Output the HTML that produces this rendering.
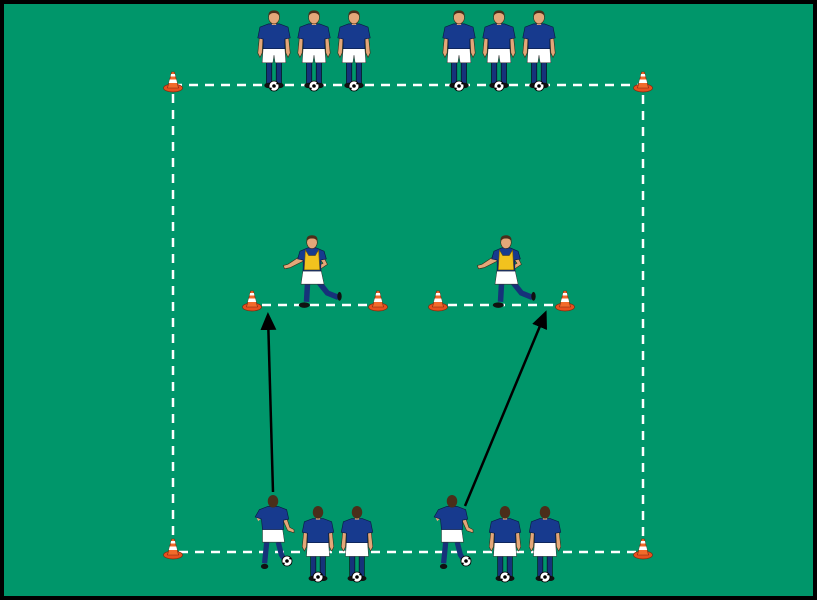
<!DOCTYPE html>
<html><head><meta charset="utf-8"><style>html,body{margin:0;padding:0;background:#000}svg{display:block}</style></head>
<body>
<svg width="817" height="600" viewBox="0 0 817 600" xmlns="http://www.w3.org/2000/svg">
<defs>
<g id="cone">
<ellipse cx="0" cy="0" rx="9.5" ry="4" fill="#e8501e" stroke="#7a2a10" stroke-width="0.7"/>
<path d="M-5.5 0 L-1.4 -16 L1.4 -16 L5.5 0 Z" fill="#f26a2a" stroke="#7a2a10" stroke-width="0.6"/>
<path d="M-4.2 -5 L4.2 -5 L3.3 -8.5 L-3.3 -8.5 Z" fill="#fff"/>
<path d="M-2.5 -11.5 L2.5 -11.5 L1.9 -14 L-1.9 -14 Z" fill="#fff"/>
</g>
<g id="ball"><circle r="5" fill="#fff" stroke="#000" stroke-width="0.8"/><circle r="1.8" fill="#000"/><circle cx="3.2" cy="-2.5" r="1" fill="#000"/><circle cx="-3.2" cy="2.5" r="1" fill="#000"/></g>
<g id="stand">
<rect x="-7" y="46" width="5" height="20" fill="#16327a" stroke="#000" stroke-width="0.5"/>
<rect x="2" y="46" width="5" height="20" fill="#16327a" stroke="#000" stroke-width="0.5"/>
<ellipse cx="-5" cy="68" rx="4" ry="2.5" fill="#111"/>
<ellipse cx="5" cy="68" rx="4" ry="2.5" fill="#111"/>
<path d="M-13 18 L-15 38 L-13 42 L-11 38 L-10 20 Z" fill="#e3a779" stroke="#3a2010" stroke-width="0.5"/>
<path d="M13 18 L15 38 L13 42 L11 38 L10 20 Z" fill="#e3a779" stroke="#3a2010" stroke-width="0.5"/>
<path d="M-10 32 L10 32 L11 47 L1 47 L0 40 L-1 47 L-11 47 Z" fill="#fff" stroke="#333" stroke-width="0.5"/>
<path d="M-5 11 L5 11 L13 14 L15 24 L10 25 L10 34 L-10 34 L-10 25 L-15 24 L-13 14 Z" fill="#173a8e" stroke="#0a1a40" stroke-width="0.6"/>
<rect x="-2" y="8" width="4" height="4" fill="#e3a779"/>
<ellipse cx="0" cy="5" rx="5" ry="6" fill="#e3a779" stroke="#3a2010" stroke-width="0.5"/>
<path d="M-5.2 4 Q-5.5 -1.5 0 -1.5 Q5.5 -1.5 5.2 4 Q3 0.5 0 1 Q-3 0.5 -5.2 4 Z" fill="#4a2e1a"/>
</g>
<g id="back">
<rect x="-7" y="46" width="5" height="20" fill="#16327a" stroke="#000" stroke-width="0.5"/>
<rect x="2" y="46" width="5" height="20" fill="#16327a" stroke="#000" stroke-width="0.5"/>
<ellipse cx="-5" cy="68" rx="4" ry="2.5" fill="#111"/>
<ellipse cx="5" cy="68" rx="4" ry="2.5" fill="#111"/>
<path d="M-13 18 L-15 38 L-13 42 L-11 38 L-10 20 Z" fill="#e3a779" stroke="#3a2010" stroke-width="0.5"/>
<path d="M13 18 L15 38 L13 42 L11 38 L10 20 Z" fill="#e3a779" stroke="#3a2010" stroke-width="0.5"/>
<path d="M-10 32 L10 32 L11 47 L-11 47 Z" fill="#fff" stroke="#333" stroke-width="0.5"/>
<path d="M-5 11 L5 11 L13 14 L15 24 L10 25 L10 34 L-10 34 L-10 25 L-15 24 L-13 14 Z" fill="#173a8e" stroke="#0a1a40" stroke-width="0.6"/>
<rect x="-2" y="8" width="4" height="4" fill="#e3a779"/>
<ellipse cx="0" cy="5" rx="5" ry="6" fill="#4a2e1a"/>
</g>
<g id="runback">
<path d="M-6 44 L-8 64" stroke="#16327a" stroke-width="5"/>
<path d="M5 44 L8 56 L12 62" stroke="#16327a" stroke-width="5" fill="none"/>
<ellipse cx="-8" cy="67" rx="3.5" ry="2.5" fill="#111"/>
<ellipse cx="14" cy="64" rx="4" ry="2.5" fill="#111"/>
<path d="M-12 14 L-16 20 L-14 24 L-10 20 Z" fill="#e3a779"/>
<path d="M12 18 L16 30 L20 32 L20 35 L14 33 L9 22 Z" fill="#e3a779" stroke="#3a2010" stroke-width="0.5"/>
<path d="M-10 30 L9 30 L11 44 L-10 44 Z" fill="#fff" stroke="#333" stroke-width="0.5"/>
<path d="M-5 10 L5 10 L13 13 L15 22 L10 23 L10 32 L-10 32 L-11 22 L-17 20 L-13 13 Z" fill="#173a8e" stroke="#0a1a40" stroke-width="0.6"/>
<ellipse cx="0" cy="5" rx="5" ry="6" fill="#4a2e1a"/>
</g>
<g id="bib">
<path d="M-4 40 L-5 58" stroke="#16327a" stroke-width="5"/>
<path d="M6 40 L14 50 L24 54" stroke="#16327a" stroke-width="5" fill="none"/>
<ellipse cx="-7" cy="61" rx="5" ry="2.5" fill="#111"/>
<ellipse cx="25" cy="53" rx="2" ry="4" fill="#111"/>
<path d="M-10 16 L-22 24 L-26 25 L-25 28 L-20 27 L-8 21 Z" fill="#e3a779" stroke="#3a2010" stroke-width="0.5"/>
<path d="M10 16 L14 24 L8 28 L6 25 L10 23 L7 19 Z" fill="#e3a779" stroke="#3a2010" stroke-width="0.5"/>
<path d="M-8 28 L8 28 L11 42 L-10 42 Z" fill="#fff" stroke="#333" stroke-width="0.5"/>
<path d="M-4 9 L4 9 L11 12 L13 19 L8 20 L8 30 L-8 30 L-8 20 L-13 19 L-11 12 Z" fill="#173a8e" stroke="#0a1a40" stroke-width="0.6"/>
<path d="M-6 11 L-3 16 L3 16 L6 11 L7 29 L-7 29 Z" fill="#f2c21e" stroke="#7a5a00" stroke-width="0.5"/>
<ellipse cx="0" cy="4" rx="4.8" ry="5.6" fill="#e3a779" stroke="#3a2010" stroke-width="0.5"/>
<path d="M-5 3 Q-5.5 -2.5 0 -2.5 Q5.5 -2.5 5 3 Q3 0 0 0.5 Q-3 0 -5 3 Z" fill="#4a2e1a"/>
</g>
<marker id="ah" markerWidth="18" markerHeight="16" refX="14" refY="8" orient="auto" markerUnits="userSpaceOnUse" viewBox="0 0 18 16"><path d="M0 0 L18 8 L0 16 Z" fill="#000"/></marker>
</defs>
<rect x="0" y="0" width="817" height="600" fill="#000"/>
<rect x="4" y="4" width="809" height="592" fill="#00966a"/>
<g stroke="#fff" stroke-width="2.5" stroke-dasharray="9,7" fill="none">
<rect x="173" y="85" width="470" height="467"/>
<line x1="262" y1="305" x2="372" y2="305"/>
<line x1="448" y1="305" x2="558" y2="305"/>
</g>
<use href="#cone" x="173" y="88"/><use href="#cone" x="643" y="88"/>
<use href="#cone" x="173" y="555"/><use href="#cone" x="643" y="555"/>
<use href="#cone" x="252" y="307"/><use href="#cone" x="378" y="307"/>
<use href="#cone" x="438" y="307"/><use href="#cone" x="565" y="307"/>
<g transform="translate(274,12) scale(1.08)"><use href="#stand"/></g>
<g transform="translate(314,12) scale(1.08)"><use href="#stand"/></g>
<g transform="translate(354,12) scale(1.08)"><use href="#stand"/></g>
<g transform="translate(459,12) scale(1.08)"><use href="#stand"/></g>
<g transform="translate(499,12) scale(1.08)"><use href="#stand"/></g>
<g transform="translate(539,12) scale(1.08)"><use href="#stand"/></g>
<use href="#ball" x="274" y="86"/><use href="#ball" x="314" y="86"/><use href="#ball" x="354" y="86"/>
<use href="#ball" x="459" y="86"/><use href="#ball" x="499" y="86"/><use href="#ball" x="539" y="86"/>
<g transform="translate(312,238) scale(1.1)"><use href="#bib"/></g>
<g transform="translate(506,238) scale(1.1)"><use href="#bib"/></g>
<line x1="273" y1="492" x2="268" y2="316" stroke="#000" stroke-width="2.5" marker-end="url(#ah)"/>
<line x1="465" y1="506" x2="545" y2="314" stroke="#000" stroke-width="2.5" marker-end="url(#ah)"/>
<g transform="translate(273,496) scale(1.05)"><use href="#runback"/></g>
<g transform="translate(452,496) scale(1.05)"><use href="#runback"/></g>
<use href="#ball" x="287" y="561"/><use href="#ball" x="466" y="561"/>
<g transform="translate(318,507) scale(1.05)"><use href="#back"/></g>
<g transform="translate(357,507) scale(1.05)"><use href="#back"/></g>
<g transform="translate(505,507) scale(1.05)"><use href="#back"/></g>
<g transform="translate(545,507) scale(1.05)"><use href="#back"/></g>
<use href="#ball" x="318" y="577"/><use href="#ball" x="357" y="577"/>
<use href="#ball" x="505" y="577"/><use href="#ball" x="545" y="577"/>
</svg>
</body></html>
